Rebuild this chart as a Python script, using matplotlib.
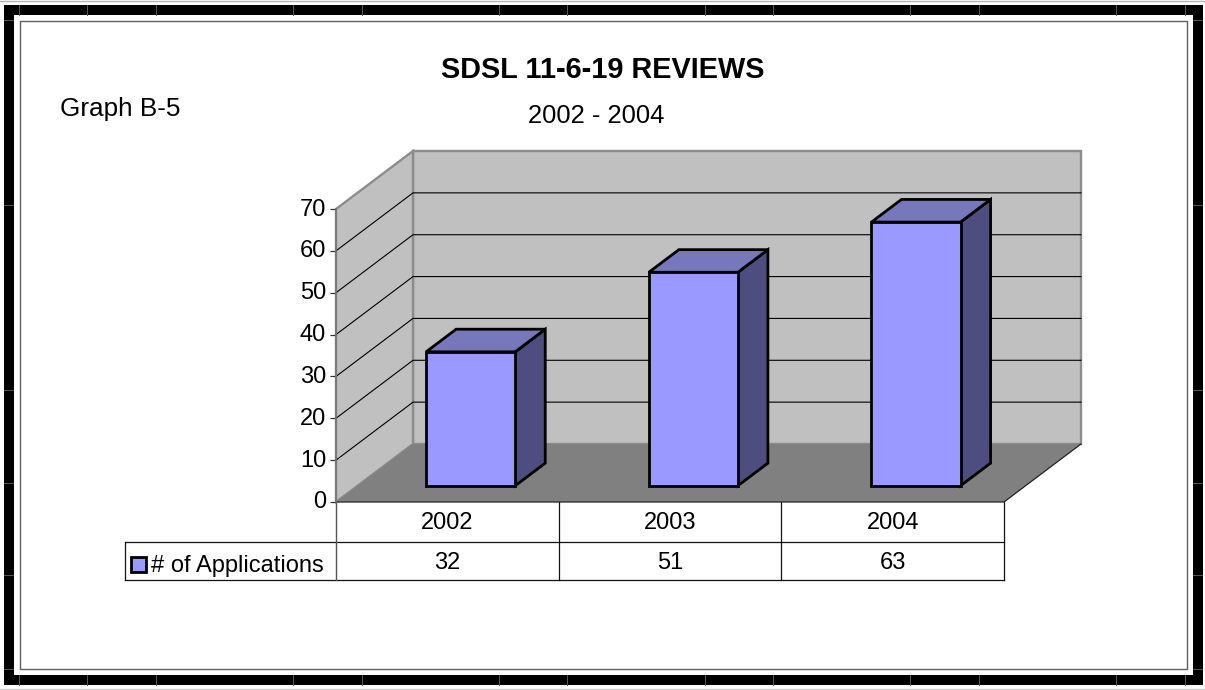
import matplotlib
matplotlib.use("Agg")
import matplotlib.pyplot as plt
from matplotlib.patches import Polygon, Rectangle
from matplotlib.transforms import ScaledTranslation

plt.rcParams["font.family"] = ["Liberation Sans", "DejaVu Sans"]

# ---------- data ----------
years = ["2002", "2003", "2004"]
applications = [32, 51, 63]
y_ticks = [0, 10, 20, 30, 40, 50, 60, 70]
series_name = "# of Applications"

W, H = 1205, 690
fig = plt.figure(figsize=(W / 100, H / 100), dpi=100, facecolor="white")

# pixel overlay for the frame, titles and data table
px = fig.add_axes([0, 0, 1, 1], zorder=1)
px.set_xlim(0, W)
px.set_ylim(H, 0)
px.axis("off")

# plot box of the front plane
L, R, B, T = 336, 1004, 502, 209
ax = fig.add_axes([L / W, (H - B) / H, (R - L) / W, (B - T) / H], zorder=2)
ax.set_xlim(0, len(years))
ax.set_ylim(0, 70)
ax.patch.set_alpha(0)
for s in ax.spines.values():
    s.set_visible(False)

# depth of the 3d box, in data units
DX = 77 / (R - L) * len(years)
DY = 58 / (B - T) * 70


def proj(x, v, d):
    return (x + d * DX, v + d * DY)


def face(pts, fc, ec="none", lw=0, z=1):
    ax.add_patch(Polygon(pts, closed=True, fc=fc, ec=ec, lw=lw, zorder=z,
                         joinstyle="miter", clip_on=False))


n = len(years)
# walls and floor
face([proj(0, 0, 1), proj(n, 0, 1), proj(n, 70, 1), proj(0, 70, 1)], "#c0c0c0", "#8c8c8c", 1.7, 1)
face([proj(0, 0, 0), proj(0, 0, 1), proj(0, 70, 1), proj(0, 70, 0)], "#c0c0c0", "#8c8c8c", 1.7, 1)
face([proj(0, 0, 0), proj(n, 0, 0), proj(n, 0, 1), proj(0, 0, 1)], "#808080", z=2)

# gridlines
for v in y_ticks[1:-1]:
    xs, ys = zip(proj(0, v, 0), proj(0, v, 1), proj(n, v, 1))
    ax.plot(xs, ys, color="black", lw=0.8, zorder=1.5, clip_on=False)
xs, ys = zip(proj(n, 0, 1), proj(n, 0, 0), proj(0, 0, 0))
ax.plot(xs, ys, color="#222222", lw=0.9, zorder=2.5, clip_on=False)

# bars
bar_w = 0.4
d0, d1 = 0.28, 0.67
for i, val in enumerate(applications):
    x0 = i + 0.5 - bar_w / 2 + 0.008
    x1 = x0 + bar_w
    # the front face sits d0 back into the box
    front = [proj(x0, 0, d0), proj(x1, 0, d0), proj(x1, val, d0), proj(x0, val, d0)]
    top = [proj(x0, val, d0), proj(x1, val, d0), proj(x1, val, d1), proj(x0, val, d1)]
    side = [proj(x1, 0, d0), proj(x1, 0, d1), proj(x1, val, d1), proj(x1, val, d0)]
    face(side, "#4d4d80", "black", 2.0, 3)
    face(top, "#7777bb", "black", 2.0, 3)
    face(front, "#9999ff", "black", 2.0, 4)

# axis
ax.set_xticks([])
ax.set_yticks(y_ticks)
ax.tick_params(axis="y", length=4.5, width=0.9, color="#333333", pad=2.7, labelsize=17)
lift = ScaledTranslation(0, 2 / 100, fig.dpi_scale_trans)
for lab in ax.get_yticklabels():
    lab.set_transform(lab.get_transform() + lift)
ax.spines["left"].set_visible(True)
ax.spines["left"].set_color("#777777")
ax.spines["left"].set_linewidth(1.2)
ax.spines["left"].set_zorder(2.6)

# ---------- frame ----------
px.add_patch(Rectangle((8.5, 10), 1189, 669.5, fc="none", ec="black", lw=7.2, joinstyle="miter", zorder=1))
px.add_patch(Rectangle((19.5, 20.5), 1167.5, 648, fc="none", ec="#606060", lw=1.0, zorder=1))
px.plot([0, W], [0.5, 0.5], color="#b4b4b4", lw=1.0, zorder=1)
px.plot([0, W], [688.5, 688.5], color="#cccccc", lw=1.0, zorder=1)

# faint page grid that shows through the black border
seam = dict(color="#585858", lw=0.7, zorder=1.2)
for k in range(18):
    if k == 0 or k % 3 != 0:
        sx = 18.5 + 68.6 * k
        px.plot([sx, sx], [5, 15], **seam)
        px.plot([sx, sx], [675, 685], **seam)
for sy in [20, 205, 390, 483, 575, 669]:
    px.plot([4, 13], [sy, sy], **seam)
    px.plot([1193, 1202], [sy, sy], **seam)

# ---------- text ----------
px.text(603, 70, "SDSL 11-6-19 REVIEWS", ha="center", va="center", fontsize=20.8, fontweight="bold", color="black")
px.text(596, 116, "2002 - 2004", ha="center", va="center", fontsize=18.4, color="black")
px.text(60, 109, "Graph B-5", ha="left", va="center", fontsize=18.8, color="black")

# ---------- data table ----------
tb_top, tb_mid, tb_bot = 502, 542, 580
col_x = [L + (R - L) * i / n for i in range(n + 1)]
leg_x = 125
kw = dict(color="#111111", lw=0.9, zorder=2)
px.plot([leg_x, R], [tb_mid, tb_mid], **kw)
px.plot([leg_x, R], [tb_bot, tb_bot], **kw)
px.plot([leg_x, leg_x], [tb_mid, tb_bot], **kw)
for x in col_x[1:]:
    px.plot([x, x], [tb_top, tb_bot], **kw)
px.plot([L, L], [tb_top, tb_bot], color="#555555", lw=1.0, zorder=2)
for i in range(n):
    cx = (col_x[i] + col_x[i + 1]) / 2
    px.text(cx, 523, years[i], ha="center", va="center", fontsize=17)
    px.text(cx, 563, str(applications[i]), ha="center", va="center", fontsize=17)
px.add_patch(Rectangle((131, 557), 15, 15, fc="#9999ff", ec="black", lw=2.0, zorder=2))
px.text(151, 566, series_name, ha="left", va="center", fontsize=17)

fig.savefig("out.png", dpi=100)
